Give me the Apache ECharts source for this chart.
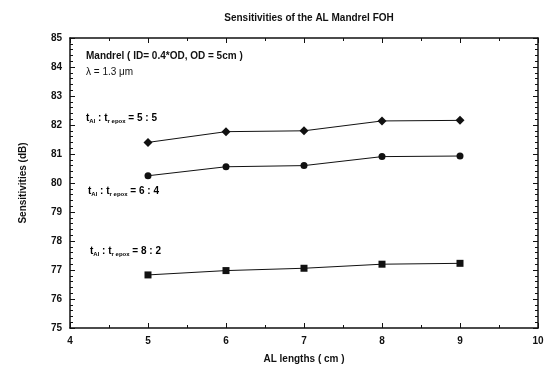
<!DOCTYPE html>
<html>
<head>
<meta charset="utf-8">
<script src="https://cdn.jsdelivr.net/npm/echarts@6/dist/echarts.min.js"></script>
<style>
  html, body { margin: 0; padding: 0; background: #fff; }
  #chart { width: 554px; height: 372px; }
</style>
</head>
<body>
<div id="chart"></div>
<script>
// AL lengths (cm)
const lengths = [5, 6, 7, 8, 9];
// sensitivities (dB) for each thickness ratio
const ratio55 = [81.40, 81.77, 81.80, 82.14, 82.16];
const ratio64 = [80.25, 80.56, 80.60, 80.91, 80.93];
const ratio82 = [76.83, 76.98, 77.06, 77.20, 77.23];

const toPairs = (ys) => lengths.map((x, i) => [x, ys[i]]);

const chart = echarts.init(document.getElementById('chart'));

const font = 'Liberation Sans, Arial, sans-serif';
const ink = '#111';

const axisCommon = {
  axisLine: { show: true, lineStyle: { color: ink, width: 1.5 } },
  splitLine: { show: false }
};

const rich = {
  t: { fontSize: 10, fontWeight: 'bold', color: ink, fontFamily: font },
  s: { fontSize: 6, fontWeight: 'bold', color: ink, fontFamily: font, verticalAlign: 'bottom', padding: [6, 0, 0, 0] }
};

const ratioLabel = (a, b) => `{t|t}{s|Al}{t| : t}{s|r epox}{t| = ${a} : ${b}}`;

const option = {
  backgroundColor: '#fff',
  animation: false,
  title: {
    text: 'Sensitivities of the AL Mandrel FOH',
    left: 304,
    textAlign: 'center',
    top: 8,
    textStyle: { fontSize: 10, fontWeight: 'bold', color: ink, fontFamily: font }
  },
  grid: { left: 70, right: 16, top: 38, bottom: 44 },
  xAxis: [
    {
      ...axisCommon,
      type: 'value',
      min: 4, max: 10, interval: 1,
      name: 'AL lengths ( cm )',
      nameLocation: 'middle',
      nameGap: 26,
      nameTextStyle: { fontSize: 10, fontWeight: 'bold', color: ink, fontFamily: font },
      axisTick: { inside: true, length: 5, lineStyle: { color: ink } },
      minorTick: { show: true, splitNumber: 2, length: 3, lineStyle: { color: ink } },
      axisLabel: { fontSize: 10, fontWeight: 'bold', color: ink, fontFamily: font, margin: 8 }
    },
    {
      ...axisCommon,
      type: 'value',
      position: 'top',
      min: 4, max: 10, interval: 1,
      axisTick: { inside: true, length: 5, lineStyle: { color: ink } },
      minorTick: { show: true, splitNumber: 2, length: 3, lineStyle: { color: ink } },
      axisLabel: { show: false }
    }
  ],
  yAxis: [
    {
      ...axisCommon,
      type: 'value',
      min: 75, max: 85, interval: 1,
      name: 'Sensitivities (dB)',
      nameLocation: 'middle',
      nameGap: 42,
      nameTextStyle: { fontSize: 10, fontWeight: 'bold', color: ink, fontFamily: font },
      axisTick: { inside: true, length: 5, lineStyle: { color: ink } },
      minorTick: { show: true, splitNumber: 5, length: 3, lineStyle: { color: ink } },
      axisLabel: { fontSize: 10, fontWeight: 'bold', color: ink, fontFamily: font, margin: 8 }
    },
    {
      ...axisCommon,
      type: 'value',
      position: 'right',
      min: 75, max: 85, interval: 1,
      axisTick: { inside: true, length: 5, lineStyle: { color: ink } },
      minorTick: { show: true, splitNumber: 5, length: 3, lineStyle: { color: ink } },
      axisLabel: { show: false }
    }
  ],
  graphic: [
    {
      type: 'text', left: 86, top: 51,
      style: { text: 'Mandrel ( ID= 0.4*OD, OD = 5cm )', fontSize: 10, fontWeight: 'bold', fill: ink, fontFamily: font }
    },
    {
      type: 'text', left: 86, top: 67,
      style: { text: 'λ = 1.3 μm', fontSize: 10, fill: ink, fontFamily: font }
    },
    { type: 'text', left: 86, top: 113, style: { text: ratioLabel(5, 5), rich } },
    { type: 'text', left: 88, top: 186, style: { text: ratioLabel(6, 4), rich } },
    { type: 'text', left: 90, top: 246, style: { text: ratioLabel(8, 2), rich } }
  ],
  series: [
    {
      name: '5 : 5',
      type: 'line',
      data: toPairs(ratio55),
      symbol: 'diamond',
      symbolSize: 9,
      lineStyle: { color: ink, width: 1 },
      itemStyle: { color: ink }
    },
    {
      name: '6 : 4',
      type: 'line',
      data: toPairs(ratio64),
      symbol: 'circle',
      symbolSize: 7,
      lineStyle: { color: ink, width: 1 },
      itemStyle: { color: ink }
    },
    {
      name: '8 : 2',
      type: 'line',
      data: toPairs(ratio82),
      symbol: 'rect',
      symbolSize: 7,
      lineStyle: { color: ink, width: 1 },
      itemStyle: { color: ink }
    }
  ]
};

chart.setOption(option);
</script>
</body>
</html>
